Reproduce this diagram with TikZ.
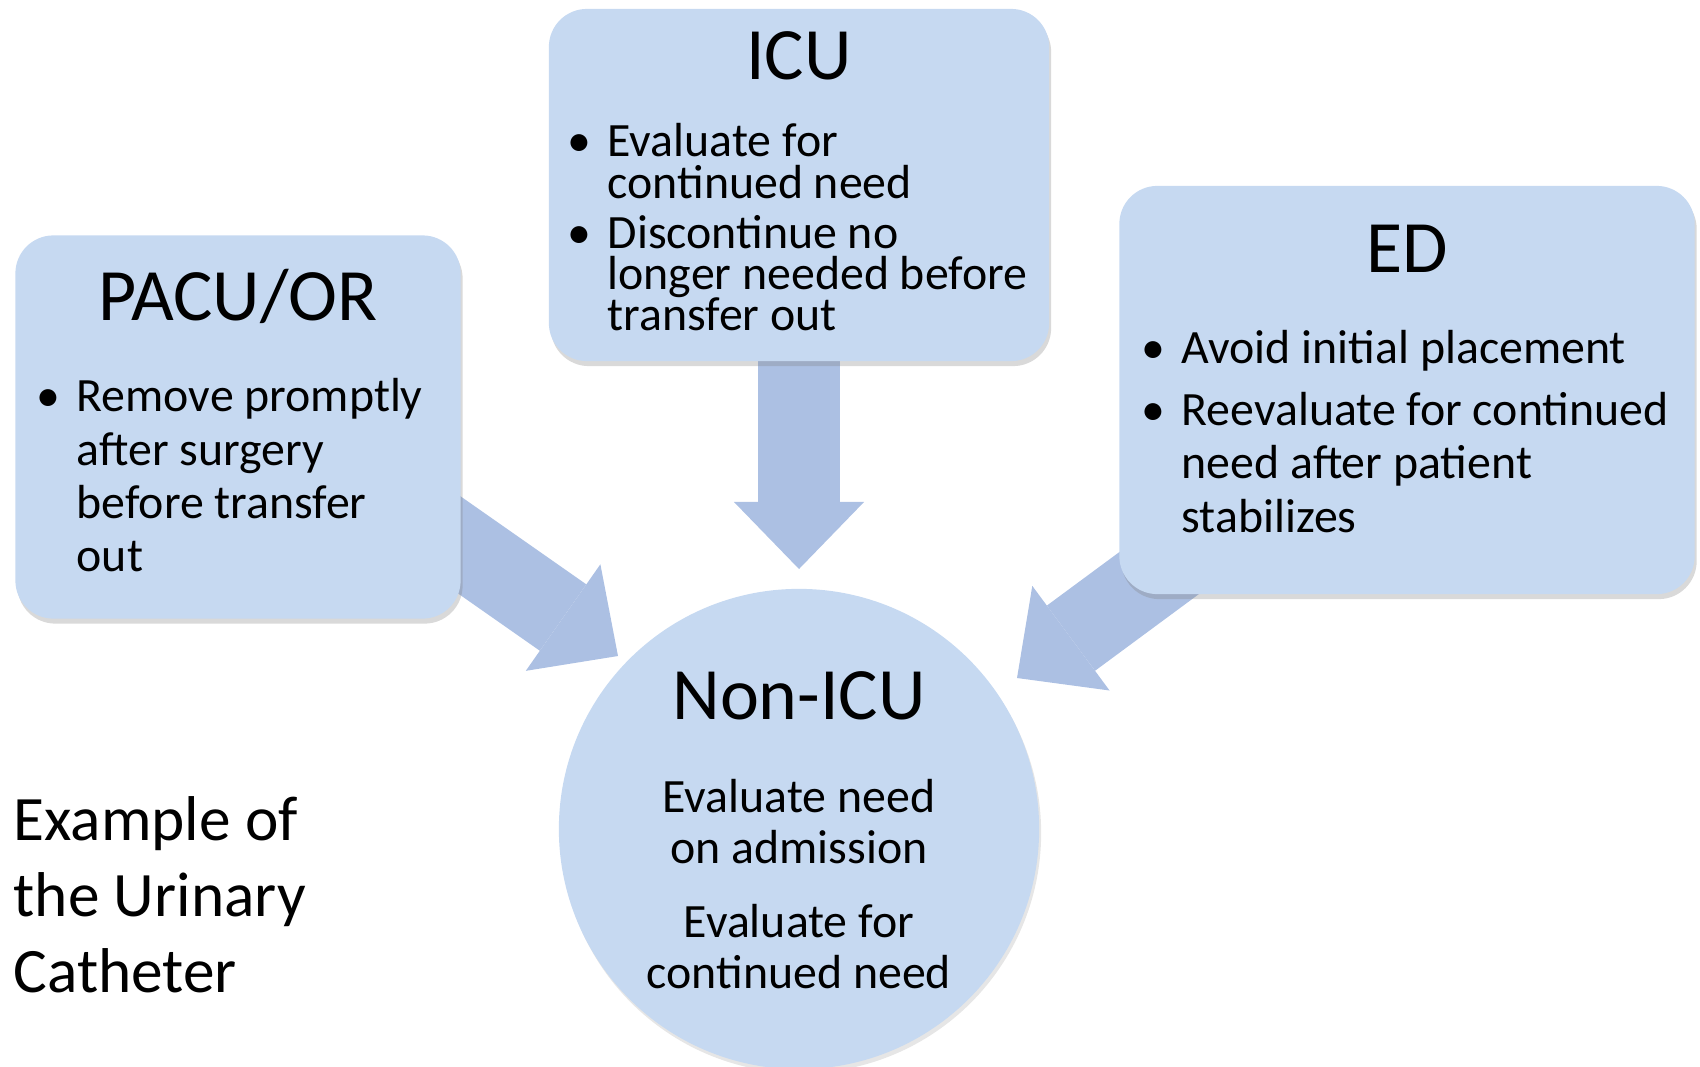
\documentclass[tikz,border=0pt]{standalone}
\usepackage{fontspec}
\setmainfont{Carlito}
\usetikzlibrary{arrows.meta,shadows,backgrounds}
\definecolor{boxblue}{RGB}{198,217,241}
\definecolor{arrowblue}{RGB}{172,192,227}
\newcommand{\bull}{\llap{\textbullet\hspace{0.16cm}}}
\newcommand{\tightlines}{\fontsize{13.6}{11.7}\selectfont\lineskiplimit-20pt\relax}

\begin{document}
\begin{tikzpicture}[x=0.01cm, y=-0.01cm,
    unit/.style={fill=boxblue, rounded corners=0.38cm, drop shadow={shadow xshift=0.02cm, shadow yshift=-0.05cm, opacity=0.3}},
    ward/.style={circle, fill=boxblue, drop shadow={shadow xshift=0.02cm, shadow yshift=-0.04cm, opacity=0.2}},
    title/.style={font=\fontsize{21}{24}\selectfont, inner sep=0},
    body/.style={font=\fontsize{13.6}{15.1}\selectfont, align=left, anchor=north west, inner sep=0},
    flow/.style={draw=arrowblue, line width=0.81cm, -{Triangle[length=0.67cm, width=1.3cm, line width=0pt]}}]
    \useasboundingbox (0,0) rectangle (1700,1066);

    \node[unit, minimum width=4.45cm, minimum height=3.83cm] (pacu) at (238,427) {};
    \node[unit, minimum width=5.0cm, minimum height=3.52cm] (icu) at (799,185) {};
    \node[unit, minimum width=5.75cm, minimum height=4.08cm] (ed) at (1407,390) {};
    \node[ward, minimum size=4.8cm] (nonicu) at (799,829) {};

    \coordinate (pacutip) at (618,656);
    \coordinate (icutip) at (799,569);
    \coordinate (edtip) at (1017,678);

    \begin{scope}[on background layer]
    \draw[flow] ([yshift=0.37cm]pacu.center) -- (pacutip);
    \draw[flow] (icu.center) -- (icutip);
    \draw[flow] (ed.center) -- (edtip);
    \end{scope}

    \node[title] (pacut) at (238,296) {PACU/OR};
    \node[title] (icut) at (799,56) {ICU};
    \node[title] (edt) at (1407,249) {ED};
    \node[title] (nonicut) at (799,696) {Non-ICU};

    \node[body] (pacub) at (76,378) {\bull Remove promptly\\after surgery\\before transfer\\out};
    \node[body, font=\tightlines] (icub) at (607,123)
        {\bull Evaluate for\\continued need\\[2.5pt]\bull Discontinue no\\longer needed before\\transfer out};
    \node[body] (edb) at (1181,330) {\bull Avoid initial placement\\[2.5pt]\bull Reevaluate for continued\\need after patient\\stabilizes};
    \node[body, font=\fontsize{13.6}{14.5}\selectfont, align=center, anchor=north] (nonicub) at (799,779)
        {Evaluate need\\on admission\\[6.5pt]Evaluate for\\continued need};

    \node[body, font=\fontsize{18}{21.6}\selectfont] (caption) at (13,796) {Example of\\the Urinary\\Catheter};
\end{tikzpicture}
\end{document}
